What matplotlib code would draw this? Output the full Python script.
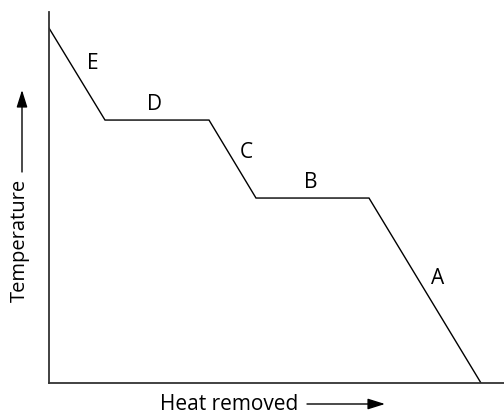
import matplotlib
matplotlib.use("Agg")
import matplotlib.pyplot as plt
from matplotlib.patches import FancyArrowPatch

# cooling curve: heat removed vs temperature (arbitrary units)
heat = [0, 56, 160, 207, 320, 432]
temp = [355, 263, 263, 185, 185, 0]
seg_labels = ["E", "D", "C", "B", "A"]
label_pos = [(44, 320), (106, 279), (197, 231), (262, 201), (389, 105)]

plt.rcParams['font.family'] = ['Open Sans', 'DejaVu Sans']

fig = plt.figure(figsize=(5.04, 4.16), dpi=100)
ax = fig.add_axes([0.0972, 0.0793, 0.9028, 0.8917])
ax.plot(heat, temp, color='black', lw=1.0, solid_joinstyle='miter')
ax.set_xlim(0, 455)
ax.set_ylim(0, 371)

for s, (x, y) in zip(seg_labels, label_pos):
    ax.text(x, y, s, fontsize=15, ha='center', va='center')

ax.set_xticks([])
ax.set_yticks([])
for side in ['top', 'right']:
    ax.spines[side].set_visible(False)
for side in ['left', 'bottom']:
    ax.spines[side].set_linewidth(1.3)
    ax.spines[side].set_color('#333333')


def fig_arrow(p0, p1):
    # p0, p1 in pixels from the top-left corner
    a = FancyArrowPatch((p0[0] / 504, 1 - p0[1] / 416), (p1[0] / 504, 1 - p1[1] / 416),
                        transform=fig.transFigure,
                        arrowstyle='-|>,head_length=0.7,head_width=0.22',
                        mutation_scale=15, color='black', lw=1.0,
                        shrinkA=0, shrinkB=0)
    fig.add_artist(a)


# axis titles with arrows
fig.text(229 / 504, 1 - 405 / 416, "Heat removed", fontsize=15, ha='center', va='center')
fig_arrow((307, 404), (385, 404))
fig.text(20 / 504, 1 - 240 / 416, "Temperature", fontsize=14.5, rotation=90,
         ha='center', va='center')
fig_arrow((22, 172), (22, 90))

fig.savefig("out.png", dpi=100)
